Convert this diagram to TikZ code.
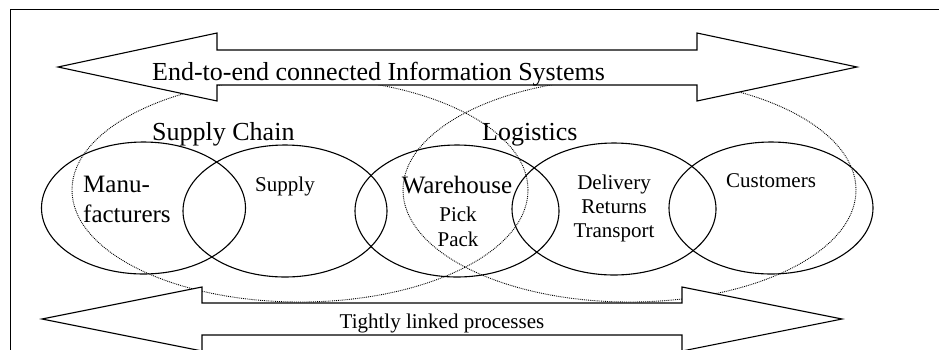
\documentclass[tikz,border=0pt]{standalone}
\usepackage{fontspec}
\setmainfont{Liberation Serif}
\usetikzlibrary{shapes.geometric}

\tikzset{
  phase/.style={draw, ellipse, line width=1.1pt, minimum width=204pt, minimum height=132pt, inner sep=0pt},
  area/.style={draw, ellipse, line width=0.9pt, dash pattern=on 0.9pt off 1pt, inner sep=0pt},
  bigarrow/.style={draw, fill=white, line width=1.1pt},
  bigtxt/.style={inner sep=0pt, font=\fontsize{26}{30}\selectfont},
  midtxt/.style={inner sep=0pt, font=\fontsize{21}{24}\selectfont, align=center},
}

\begin{document}
\begin{tikzpicture}[x=1pt,y=-1pt]
    \useasboundingbox (0,0) rectangle (939,349);
    \draw[line width=1pt] (10,360) -- (10,9) -- (950,9);

    \node[area, minimum width=456pt, minimum height=224pt] (chain) at (300,190) {};
    \node[area, minimum width=453pt, minimum height=224pt] (logi) at (629.5,190) {};

    \node[phase] (manu) at (143.5,208) {};
    \node[phase] (supply) at (285,211) {};
    \node[phase] (ware) at (457,211) {};
    \node[phase] (deliv) at (614,209) {};
    \node[phase] (cust) at (771,208) {};

    \draw[bigarrow] (58,67) -- (217,33) -- (217,50) -- (697,50) -- (697,33) -- (857,67)
        -- (697,101) -- (697,85) -- (217,85) -- (217,101) -- cycle;
    \draw[bigarrow] (42,319) -- (202,287) -- (202,303) -- (682,303) -- (682,287) -- (842,319)
        -- (682,351) -- (682,335) -- (202,335) -- (202,351) -- cycle;

    \node[bigtxt, anchor=base west] (infotxt) at (152,80) {End-to-end connected Information Systems};
    \node[bigtxt, anchor=base west] (chaintxt) at (152,140) {Supply Chain};
    \node[bigtxt, anchor=base west] (logitxt) at (482,140) {Logistics};

    \node[bigtxt, font=\fontsize{25}{30}\selectfont, align=left, anchor=base west] (manutxt) at (83,222) {Manu-\\facturers};
    \node[midtxt, anchor=base] (supplytxt) at (285,191) {Supply};
    \node[bigtxt, font=\fontsize{25}{30}\selectfont, anchor=base] (waretxt) at (457,193) {Warehouse};
    \node[midtxt, font=\fontsize{21}{25}\selectfont, anchor=base] (packtxt) at (458,246) {Pick\\Pack};
    \node[midtxt, anchor=base] (delivtxt) at (614,237) {Delivery\\Returns\\Transport};
    \node[midtxt, anchor=base] (custtxt) at (771,187) {Customers};
    \node[midtxt, anchor=base] (proctxt) at (442,328) {Tightly linked processes};
\end{tikzpicture}
\end{document}
